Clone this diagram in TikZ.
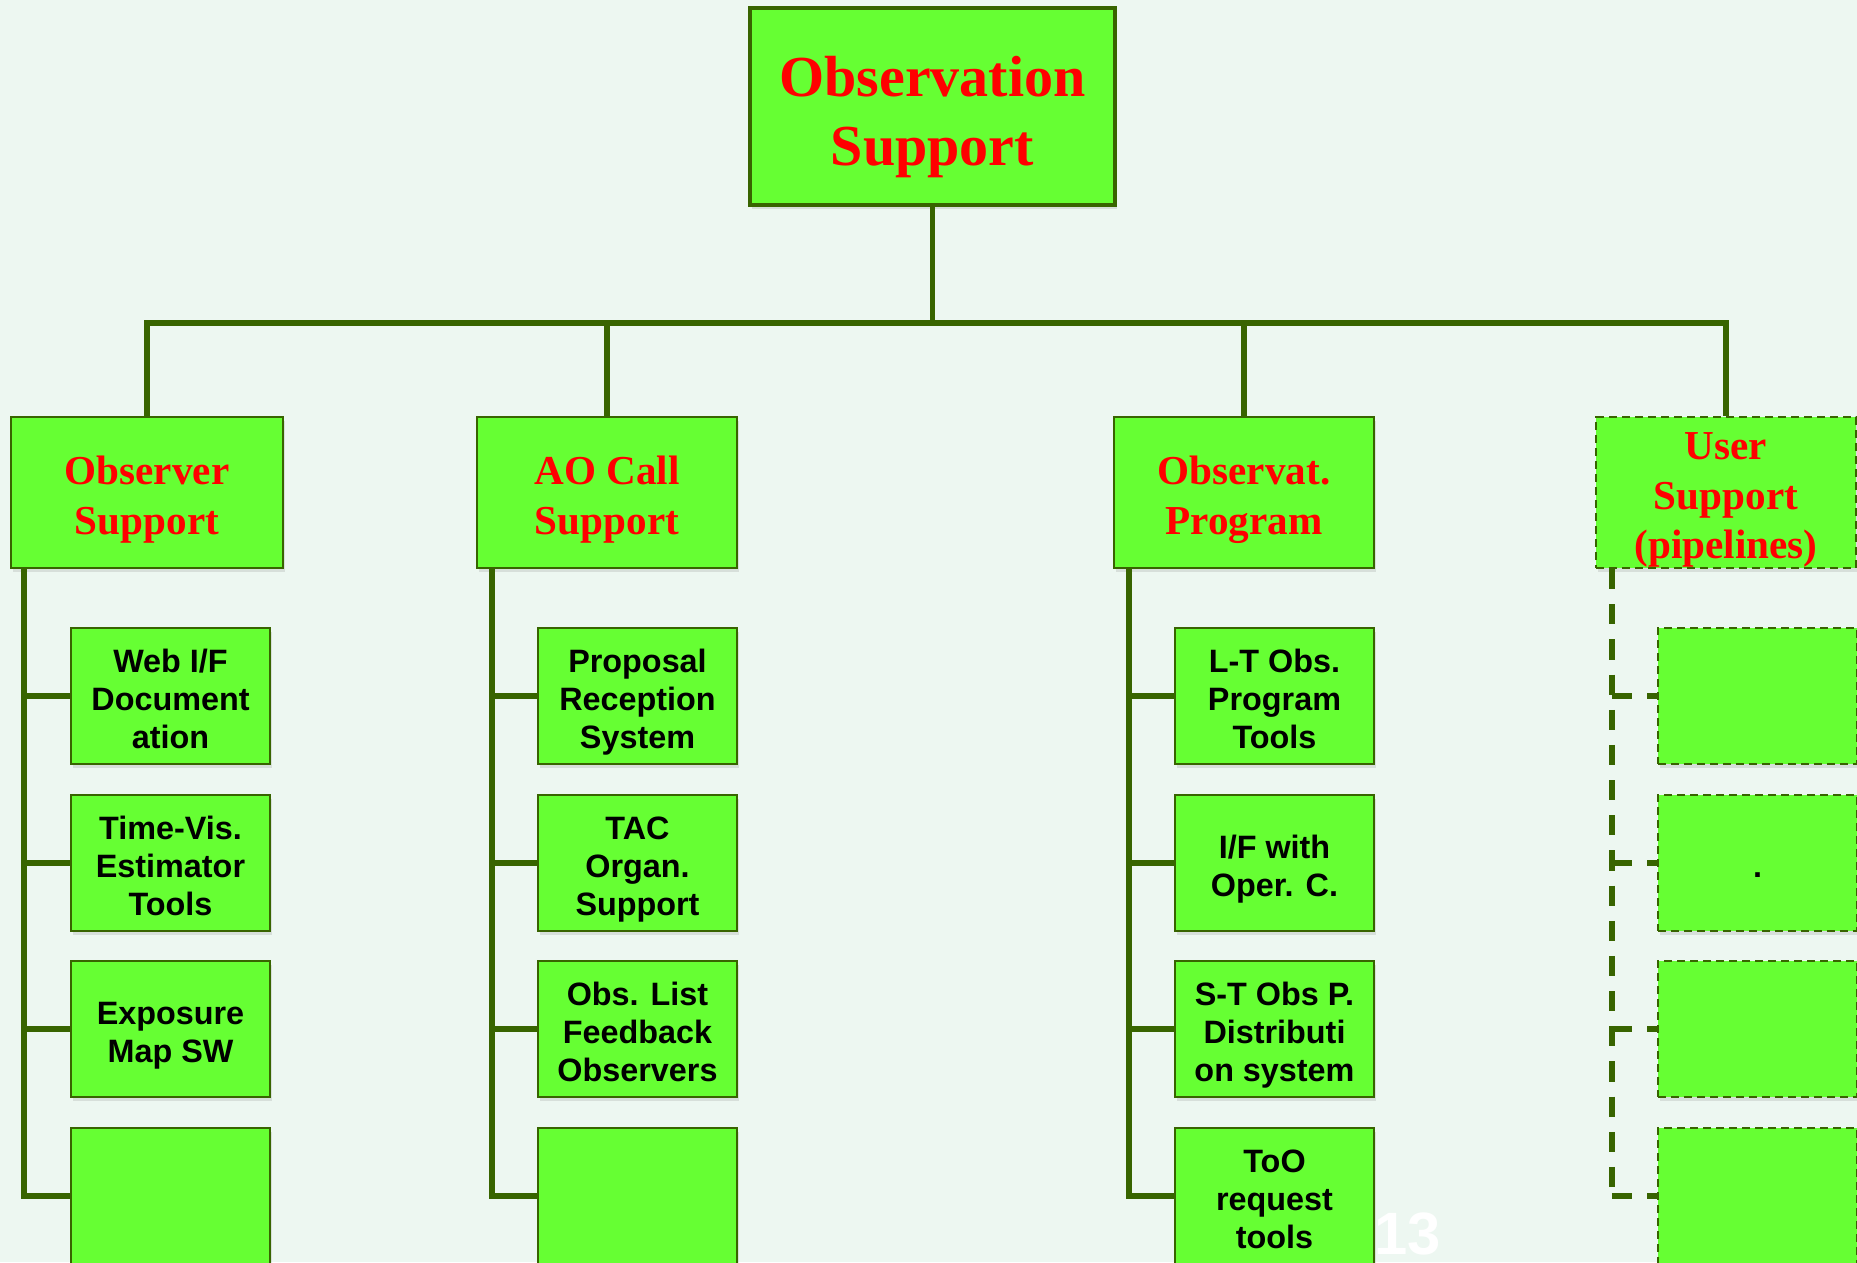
\documentclass[tikz,border=0pt]{standalone}
\usepackage{fontspec}
\setmainfont{Liberation Serif}
\setsansfont{Liberation Sans}
\usepackage{xcolor}
\usetikzlibrary{positioning, shadows}

\definecolor{boxgreen}{RGB}{102,255,51}
\definecolor{linegreen}{RGB}{56,100,0}
\definecolor{pagebg}{RGB}{237,247,241}

\begin{document}
\begin{tikzpicture}[x=0.01cm, y=-0.01cm,
  shade/.style = {drop shadow={opacity=0.2, shadow xshift=0.6pt, shadow yshift=-1.2pt}},
  top/.style   = {draw=linegreen, line width=1.2pt, fill=boxgreen, shade,
                  minimum width=3.65cm, minimum height=1.97cm, align=center,
                  text height=36.1pt, text depth=2.8pt,
                  text=red, font=\bfseries\fontsize{16.5}{19.6}\selectfont},
  group/.style = {draw=linegreen, line width=0.6pt, fill=boxgreen, shade,
                  minimum width=2.6cm, minimum height=1.51cm, inner ysep=0pt,
                  align=center, text height=25.7pt, text depth=2.1pt,
                  text=red, font=\bfseries\fontsize{11.7}{14.2}\selectfont},
  item/.style  = {draw=linegreen, line width=0.5pt, fill=boxgreen, shade,
                  minimum width=1.99cm, minimum height=1.36cm, align=center,
                  text depth=1.2pt,
                  font=\sffamily\bfseries\fontsize{9.2}{10.7}\selectfont},
  oneline/.style   = {text height=9.5pt},
  twoline/.style   = {text height=20.2pt},
  threeline/.style = {text height=30.9pt},
  draft/.style = {dash pattern=on 2.3pt off 1.4pt},
  link/.style  = {draw=linegreen, line width=1.7pt},
  dlink/.style = {link, dash pattern=on 5.7pt off 4.3pt}
]
  \clip (0,0) rectangle (1857,1262);
  \fill[pagebg] (0,0) rectangle (1857,1262);

  %% top of the tree
  \node[top] (root) at (932.5,106.5) {Observation\\Support};
  \coordinate (bus) at (932.5,323);

  %% second level
  \node[group, minimum width=2.72cm] (obs) at (147,492.5) {Observer\\Support};
  \node[group] (ao)   at (607,492.5)  {AO Call\\Support};
  \node[group] (prog) at (1244,492.5) {Observat.\\Program};
  \node[group, draft, text height=39.9pt] (user) at (1726,492.5) {User\\Support\\(pipelines)};

  %% bus
  \draw[link] (root) -- (bus);
  \draw[link] (obs.north) |- (bus);
  \draw[link] (ao.north) |- (bus);
  \draw[link] (prog.north) |- (bus);
  \draw[link] (user.north) |- (bus);

  %% Observer Support
  \node[item, threeline] (obs1) at (170.5,696)  {Web I/F\\Document\\ation};
  \node[item, threeline] (obs2) at (170.5,863)  {Time-Vis.\\Estimator\\Tools};
  \node[item, twoline]   (obs3) at (170.5,1029) {Exposure\\Map SW};
  \node[item] (obs4) at (170.5,1196) {};
  \coordinate (obsT) at ([xshift=0.14cm]obs.south west);
  \draw[link] (obsT) |- (obs1);
  \draw[link] (obsT) |- (obs2);
  \draw[link] (obsT) |- (obs3);
  \draw[link] (obsT) |- (obs4);

  %% AO Call Support
  \node[item, threeline] (ao1) at (637.5,696)  {Proposal\\Reception\\System};
  \node[item, threeline] (ao2) at (637.5,863)  {TAC\\Organ.\\Support};
  \node[item, threeline] (ao3) at (637.5,1029) {Obs. List\\Feedback\\Observers};
  \node[item] (ao4) at (637.5,1196) {};
  \coordinate (aoT) at ([xshift=0.16cm]ao.south west);
  \draw[link] (aoT) |- (ao1);
  \draw[link] (aoT) |- (ao2);
  \draw[link] (aoT) |- (ao3);
  \draw[link] (aoT) |- (ao4);

  %% Observat. Program
  \node[item, threeline] (prog1) at (1274.5,696)  {L-T Obs.\\Program\\Tools};
  \node[item, twoline]   (prog2) at (1274.5,863)  {I/F with\\Oper. C.};
  \node[item, threeline] (prog3) at (1274.5,1029) {S-T Obs P.\\Distributi\\on system};
  \node[item, threeline] (prog4) at (1274.5,1196) {ToO\\request\\tools};
  \coordinate (progT) at ([xshift=0.16cm]prog.south west);
  \draw[link] (progT) |- (prog1);
  \draw[link] (progT) |- (prog2);
  \draw[link] (progT) |- (prog3);
  \draw[link] (progT) |- (prog4);

  %% User Support (dashed)
  \node[item, draft] (user1) at (1757.5,696)  {};
  \node[item, draft, oneline] (user2) at (1757.5,863)  {.};
  \node[item, draft] (user3) at (1757.5,1029) {};
  \node[item, draft] (user4) at (1757.5,1196) {};
  \coordinate (userT) at ([xshift=0.17cm]user.south west);
  \draw[dlink] (userT) -- (user4 -| userT);
  \draw[dlink] (user1 -| userT) -- (user1);
  \draw[dlink] (user2 -| userT) -- (user2);
  \draw[dlink] (user3 -| userT) -- (user3);
  \draw[dlink] (user4 -| userT) -- (user4);

  %% page number
  \node[anchor=north west, text=white, font=\sffamily\bfseries\fontsize{17}{17}\selectfont]
    (pagenum) at (1362,1200) {13};
\end{tikzpicture}
\end{document}
